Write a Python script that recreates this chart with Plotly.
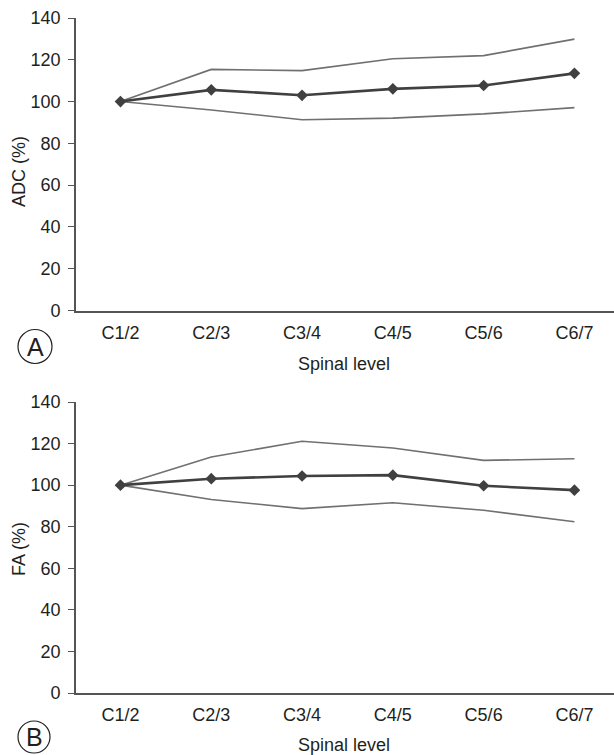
import plotly.graph_objects as go

levels = ["C1/2", "C2/3", "C3/4", "C4/5", "C5/6", "C6/7"]

adc_mean = [100, 105.6, 103.0, 106.1, 107.7, 113.5]
adc_upper = [100, 115.4, 114.8, 120.5, 122.0, 129.9]
adc_lower = [100, 96.0, 91.3, 92.1, 94.1, 97.1]

fa_mean = [100, 103.1, 104.4, 104.8, 99.7, 97.6]
fa_upper = [100, 113.5, 121.1, 117.9, 111.9, 112.7]
fa_lower = [100, 93.1, 88.7, 91.5, 87.9, 82.4]

y_ticks = [0, 20, 40, 60, 80, 100, 120, 140]

W, H = 614, 755
FONT = "Liberation Sans, Arial, Helvetica, sans-serif"
TXT = "#231f20"
AX = "#555555"
MEAN_C = "#404040"
BOUND_C = "#707070"


def px(x):
    return x / W


def py(y):
    return 1 - y / H


fig = go.Figure()

panels = [
    ("x", "y", adc_mean, adc_upper, adc_lower),
    ("x2", "y2", fa_mean, fa_upper, fa_lower),
]
for xa, ya, m, u, lo in panels:
    for series in (u, lo):
        fig.add_trace(go.Scatter(x=levels, y=series, xaxis=xa, yaxis=ya, mode="lines",
                                 line=dict(color=BOUND_C, width=1.6), showlegend=False,
                                 hoverinfo="skip"))
    fig.add_trace(go.Scatter(x=levels, y=m, xaxis=xa, yaxis=ya, mode="lines+markers",
                             line=dict(color=MEAN_C, width=2.6),
                             marker=dict(symbol="diamond", size=9, color=MEAN_C),
                             showlegend=False))

xdom = [px(76), 1.0]
ydomA = [py(310.5), py(18)]
ydomB = [py(693), py(402)]

xcommon = dict(type="category", range=[-0.49, 5.436], showline=True, linecolor=AX,
               linewidth=1.6, ticks="", showgrid=False, zeroline=False,
               ticklabelstandoff=5,
               tickfont=dict(family=FONT, size=18, color=TXT), automargin=False,
               fixedrange=True)
ycommon = dict(range=[0, 140], tickvals=y_ticks, showline=True, linecolor=AX,
               linewidth=1.6, ticks="outside", ticklen=6, tickwidth=1.4, tickcolor=AX,
               showgrid=False, zeroline=False, ticklabelstandoff=4,
               tickfont=dict(family=FONT, size=18, color=TXT), automargin=False,
               fixedrange=True)

fig.update_layout(
    width=W, height=H,
    margin=dict(l=0, r=0, t=0, b=0),
    paper_bgcolor="white", plot_bgcolor="white",
    xaxis=dict(domain=xdom, anchor="y", **xcommon),
    yaxis=dict(domain=ydomA, anchor="x", **ycommon),
    xaxis2=dict(domain=xdom, anchor="y2", **xcommon),
    yaxis2=dict(domain=ydomB, anchor="x2", **ycommon),
)

annots = [
    ("Spinal level", 344, 364, 0),
    ("Spinal level", 344, 745, 0),
    ("ADC (%)", 19, 172, -90),
    ("FA (%)", 19, 549, -90),
    ("A", 35, 347, 0),
    ("B", 34, 737, 0),
]
for text, x, y, ang in annots:
    size = 25 if text in ("A", "B") else 18
    fig.add_annotation(text=text, x=px(x), y=py(y), xref="paper", yref="paper",
                       showarrow=False, textangle=ang, xanchor="center", yanchor="middle",
                       font=dict(family=FONT, size=size, color=TXT))

for cx, cy, r in [(35, 346.5, 17), (34, 737, 16)]:
    fig.add_shape(type="circle", xref="paper", yref="paper",
                  x0=px(cx - r), x1=px(cx + r), y0=py(cy + r), y1=py(cy - r),
                  line=dict(color=TXT, width=1.2))

fig.write_html("out.html", config={"displayModeBar": False},
               post_script="document.body.style.margin='0';document.body.style.overflow='hidden';")
